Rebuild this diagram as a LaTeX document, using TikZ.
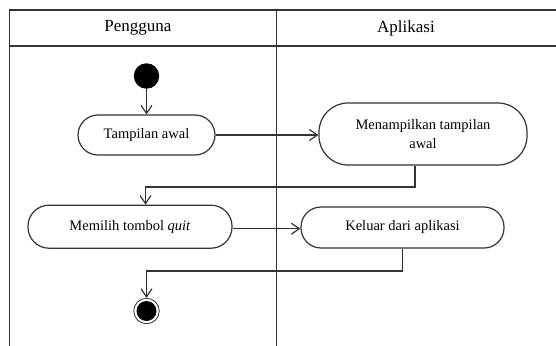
\documentclass[tikz,border=0pt]{standalone}
\usepackage{fontspec}
\setmainfont{Liberation Serif}
\usetikzlibrary{arrows.meta}

\begin{document}
\begin{tikzpicture}[x=1pt,y=-1pt,line width=1.2pt,draw=black!80,
    activity/.style={draw,rounded corners=20pt,align=center,inner sep=2pt,
      font=\fontsize{14.5}{18.5}\selectfont},
    lanehead/.style={font=\fontsize{17}{20}\selectfont},
    flow/.style={-{Straight Barb[length=8pt,width=11pt]}}]
  \useasboundingbox (0,0) rectangle (556,345);
  \draw (560,10) -- (9.6,10) -- (9.6,350);
  \draw (9.6,46) -- (560,46);
  \draw (276.6,10) -- (276.6,350);
  \node[lanehead] (pengguna) at (138,28) {Pengguna};
  \node[lanehead] (aplikasi) at (406,28) {Aplikasi};

  \node[circle,fill=black,minimum size=25.5pt,inner sep=0pt] (start) at (146.5,76) {};
  \node[activity,minimum width=137pt,minimum height=40pt] (tampil) at (146.5,135) {Tampilan awal};
  \node[activity,minimum width=208pt,minimum height=62pt,rounded corners=29pt] (menampil) at (423,134)
    {Menampilkan tampilan\\awal};
  \node[activity,minimum width=204pt,minimum height=43pt,rounded corners=21pt] (memilih) at (130,226.7)
    {Memilih tombol \textit{quit}};
  \node[activity,minimum width=203pt,minimum height=41pt] (keluar) at (402.5,227.5)
    {Keluar dari aplikasi};
  \node[circle,draw,line width=0.8pt,minimum size=25.5pt,inner sep=0pt] (end) at (146.5,311) {};
  \fill (end.center) circle (10pt);

  \coordinate (b1) at (145.5,187);
  \coordinate (b2) at (146.5,271);
  \draw[flow] (start) -- (tampil);
  \draw[flow] (tampil.east) -- (tampil.east -| menampil.west);
  \draw[flow] ([xshift=-8pt]menampil.south) |- (b1) -- (b1 |- memilih.north);
  \draw[flow] ([yshift=-2pt]memilih.east) -- ([yshift=-2pt]memilih.east -| keluar.west);
  \draw[flow] (keluar.south) |- (b2) -- (end.north);
\end{tikzpicture}
\end{document}
